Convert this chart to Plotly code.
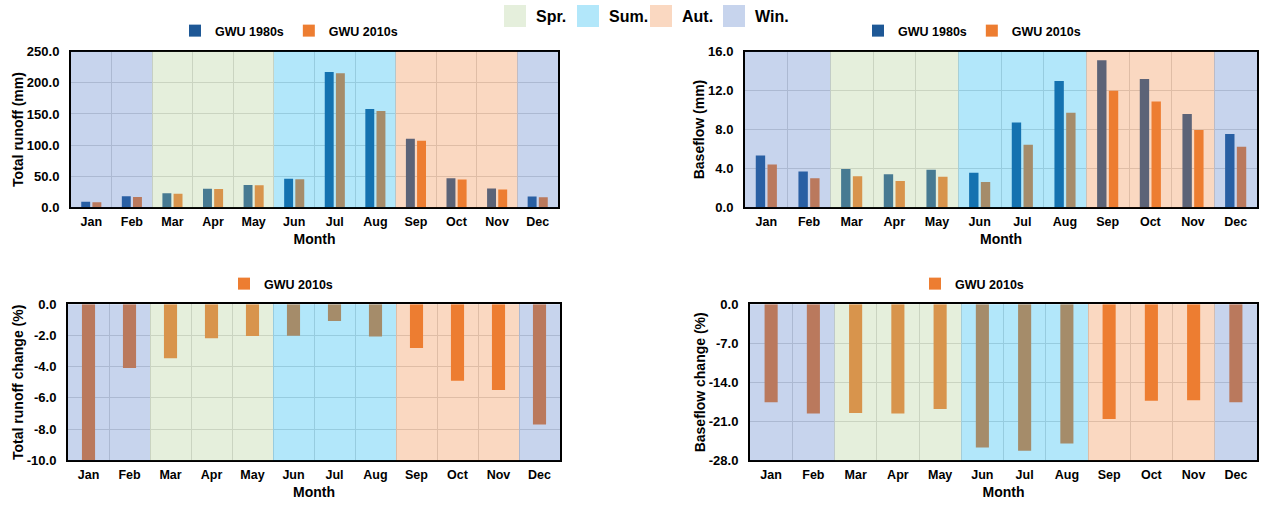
import numpy as np
import plotly.graph_objects as go

months = ["Jan", "Feb", "Mar", "Apr", "May", "Jun", "Jul", "Aug", "Sep", "Oct", "Nov", "Dec"]
seasons = ["Win.", "Win.", "Spr.", "Spr.", "Spr.", "Sum.", "Sum.", "Sum.", "Aut.", "Aut.", "Aut.", "Win."]
season_order = ["Spr.", "Sum.", "Aut.", "Win."]

runoff_1980s = [9.1, 17.7, 22.5, 30.0, 35.9, 46.0, 217.3, 157.9, 110.2, 46.8, 30.1, 17.5]
runoff_2010s = [8.0, 16.6, 21.9, 29.4, 35.3, 45.0, 215.2, 154.7, 107.1, 44.5, 28.4, 16.2]
baseflow_1980s = [5.33, 3.68, 3.95, 3.40, 3.85, 3.54, 8.73, 12.99, 15.12, 13.2, 9.59, 7.53]
baseflow_2010s = [4.40, 2.99, 3.20, 2.71, 3.13, 2.61, 6.43, 9.73, 11.99, 10.89, 7.94, 6.22]
runoff_change = [-10.4, -4.08, -3.46, -2.18, -2.03, -2.01, -1.07, -2.07, -2.8, -4.9, -5.5, -7.7]
baseflow_change = [-17.6, -19.6, -19.5, -19.6, -18.8, -25.7, -26.3, -25.0, -20.6, -17.3, -17.2, -17.6]

runoff_ticks = [0, 50, 100, 150, 200, 250]
baseflow_ticks = [0, 4, 8, 12, 16]
runoff_change_ticks = [-10, -8, -6, -4, -2, 0]
baseflow_change_ticks = [-28, -21, -14, -7, 0]

W, H = 1264, 510
FONT = "Liberation Sans, Arial, sans-serif"
BLUE = "rgb(30,88,150)"
ORANGE = "rgb(237,125,49)"
GRID = "#D9D9D9"
season_colors = {"Spr.": "rgb(168,202,138)", "Sum.": "rgb(0,176,240)",
                 "Aut.": "rgb(237,125,49)", "Win.": "rgb(68,114,196)"}
OVER_OP = 0.3

idx = np.arange(len(months))

fig = go.Figure()

# top-left
fig.add_trace(go.Bar(x=idx, y=runoff_1980s, name="GWU 1980s", marker=dict(color=BLUE, line_width=0),
                     xaxis="x", yaxis="y", legend="legend", offsetgroup="a"))
fig.add_trace(go.Bar(x=idx, y=runoff_2010s, name="GWU 2010s", marker=dict(color=ORANGE, line_width=0),
                     xaxis="x", yaxis="y", legend="legend", offsetgroup="b"))
# top-right
fig.add_trace(go.Bar(x=idx, y=baseflow_1980s, name="GWU 1980s", marker=dict(color=BLUE, line_width=0),
                     xaxis="x2", yaxis="y2", legend="legend2", offsetgroup="a"))
fig.add_trace(go.Bar(x=idx, y=baseflow_2010s, name="GWU 2010s", marker=dict(color=ORANGE, line_width=0),
                     xaxis="x2", yaxis="y2", legend="legend2", offsetgroup="b"))
# bottom-left
fig.add_trace(go.Bar(x=idx, y=runoff_change, name="GWU 2010s", marker=dict(color=ORANGE, line_width=0),
                     xaxis="x3", yaxis="y3", legend="legend3", width=0.32))
# bottom-right
fig.add_trace(go.Bar(x=idx, y=baseflow_change, name="GWU 2010s", marker=dict(color=ORANGE, line_width=0),
                     xaxis="x4", yaxis="y4", legend="legend4", width=0.31))


def season_runs(seq):
    out = []
    start = 0
    for i in range(1, len(seq) + 1):
        if i == len(seq) or seq[i] != seq[start]:
            out.append((start, i - 1, seq[start]))
            start = i
    return out


shapes = []
panel_axes = [("x", "y"), ("x2", "y2"), ("x3", "y3"), ("x4", "y4")]
for xa, ya in panel_axes:
    for s, e, name in season_runs(seasons):
        shapes.append(dict(type="rect", xref=xa, yref=f"{ya} domain", x0=s - 0.5, x1=e + 0.5, y0=0, y1=1,
                           fillcolor=season_colors[name], opacity=OVER_OP, layer="above", line_width=0))

# season legend (top centre)
annotations = []
patch_x = [504, 577, 650, 723]
for px, name in zip(patch_x, season_order):
    shapes.append(dict(type="rect", xref="paper", yref="paper",
                       x0=px / W, x1=(px + 22) / W, y0=1 - 27 / H, y1=1 - 5 / H,
                       fillcolor=season_colors[name], opacity=OVER_OP, line_width=0, layer="above"))
    annotations.append(dict(xref="paper", yref="paper", x=(px + 30) / W, y=1 - 16 / H, text=name,
                            showarrow=False, xanchor="left", yanchor="middle",
                            font=dict(family=FONT, size=16, color="black", weight="bold")))


def xaxis_cfg(x0, x1, anchor):
    return dict(domain=[x0 / W, x1 / W], anchor=anchor, range=[-0.5, 11.5], automargin=False,
                tickmode="array", tickvals=idx, ticktext=months, showgrid=False,
                minor=dict(tick0=0.5, dtick=1, showgrid=True, gridcolor=GRID, gridwidth=1, ticks=""),
                showline=True, mirror=True, linecolor="black", linewidth=2,
                ticks="outside", ticklen=2, tickcolor="rgba(0,0,0,0)", zeroline=False,
                tickfont=dict(family=FONT, size=12.5, color="black", weight="bold"),
                title=dict(text="Month", standoff=6,
                           font=dict(family=FONT, size=14, color="black", weight="bold")))


def yaxis_cfg(y_top, y_bot, anchor, rng, ticks, title):
    return dict(domain=[1 - y_bot / H, 1 - y_top / H], anchor=anchor, range=rng, automargin=False,
                tickmode="array", tickvals=ticks, ticktext=[f"{v:.1f}" for v in ticks],
                showgrid=True, gridcolor=GRID, gridwidth=1, zeroline=False,
                showline=True, mirror=True, linecolor="black", linewidth=2,
                ticks="outside", ticklen=7, tickcolor="rgba(0,0,0,0)",
                tickfont=dict(family=FONT, size=13, color="black", weight="bold"),
                title=dict(text=title, standoff=0,
                           font=dict(family=FONT, size=14, color="black", weight="bold")))


def legend_cfg(xc, yc):
    return dict(orientation="h", x=xc / W, y=1 - yc / H, xanchor="center", yanchor="middle",
                bgcolor="rgba(0,0,0,0)", font=dict(family=FONT, size=12.5, color="black", weight="bold"),
                itemwidth=30, tracegroupgap=0)


fig.update_layout(
    width=W, height=H, autosize=False,
    margin=dict(l=0, r=0, t=0, b=0, autoexpand=False),
    paper_bgcolor="white", plot_bgcolor="white",
    barmode="group", bargap=0.45, bargroupgap=0.2,
    font=dict(family=FONT, color="black"),
    xaxis=xaxis_cfg(71, 558, "y"),
    yaxis=yaxis_cfg(51.7, 207.3, "x", [0, 250], runoff_ticks, "Total runoff (mm)"),
    xaxis2=xaxis_cfg(745, 1257, "y2"),
    yaxis2=yaxis_cfg(51.7, 207.3, "x2", [0, 16], baseflow_ticks, "Baseflow (mm)"),
    xaxis3=xaxis_cfg(68, 560, "y3"),
    yaxis3=yaxis_cfg(304.3, 460.3, "x3", [-10, 0], runoff_change_ticks, "Total runoff change (%)"),
    xaxis4=xaxis_cfg(750, 1257, "y4"),
    yaxis4=yaxis_cfg(304.3, 460.3, "x4", [-28, 0], baseflow_change_ticks, "Baseflow change (%)"),
    legend=legend_cfg(289, 31),
    legend2=legend_cfg(972, 31),
    legend3=legend_cfg(281, 284),
    legend4=legend_cfg(972, 284),
    shapes=shapes,
    annotations=annotations,
)

fig.write_html("out.html")
